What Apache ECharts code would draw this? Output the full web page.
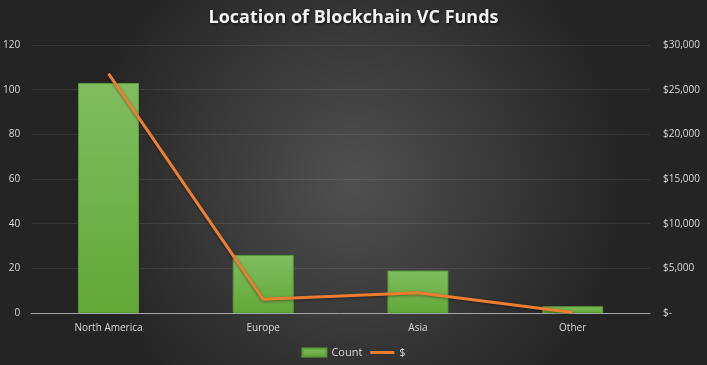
<!DOCTYPE html>
<html><head><meta charset="utf-8">
<script src="https://cdn.jsdelivr.net/npm/echarts@6/dist/echarts.min.js"></script>
<style>html,body{margin:0;padding:0;background:#333;}#c{width:707px;height:365px;}</style>
</head><body><div id="c"></div>
<script>
const categories = ['North America', 'Europe', 'Asia', 'Other'];
const countValues = [103, 26, 19, 3];
const dollarValues = [26800, 1530, 2270, 50];
const leftTicks = [0, 20, 40, 60, 80, 100, 120];
const rightTicks = ['$-', '$5,000', '$10,000', '$15,000', '$20,000', '$25,000', '$30,000'];

const chart = echarts.init(document.getElementById('c'), null, {renderer: 'canvas'});
const font = "'Open Sans', 'Noto Sans', sans-serif";
chart.setOption({
  animation: false,
  backgroundColor: {
    type: 'radial', x: 0.5, y: 0.5, r: 0.75,
    colorStops: [{offset: 0, color: '#505050'}, {offset: 1, color: '#242424'}]
  },
  title: {
    text: 'Location of Blockchain VC Funds', left: 'center', top: 4,
    textStyle: {color: '#f2f2f2', fontSize: 18, fontWeight: 'bold', fontFamily: font,
      textShadowColor: 'rgba(0,0,0,0.7)', textShadowBlur: 3, textShadowOffsetX: 1, textShadowOffsetY: 1}
  },
  legend: {
    bottom: 2, left: 'center', itemGap: 8, itemWidth: 24, itemHeight: 8,
    textStyle: {color: '#d9d9d9', fontSize: 11, fontFamily: font},
    data: [{name: 'Count', icon: 'rect'},
           {name: '$', icon: 'path://M0,2.5h24v3h-24z M0,0h0.05v0.05h-0.05z M0,8h0.05v-0.05h-0.05z',
            itemStyle: {color: '#ED7D31'}}]
  },
  grid: {left: 30, right: 57, top: 45, bottom: 52},
  xAxis: {
    type: 'category', data: categories,
    axisLine: {lineStyle: {color: '#a6a6a6', width: 1}},
    axisTick: {show: false},
    axisLabel: {color: '#d9d9d9', fontSize: 10, fontFamily: font, margin: 10}
  },
  yAxis: [{
    type: 'value', min: 0, max: 120, interval: 20,
    axisLine: {show: false}, axisTick: {show: false},
    splitLine: {lineStyle: {color: 'rgba(255,255,255,0.08)'}},
    axisLabel: {color: '#d9d9d9', fontSize: 10, fontFamily: font, margin: 11,
      formatter: v => String(v)}
  }, {
    type: 'value', min: 0, max: 30000, interval: 5000,
    axisLine: {show: false}, axisTick: {show: false}, splitLine: {show: false},
    axisLabel: {color: '#d9d9d9', fontSize: 10, fontFamily: font, margin: 13,
      formatter: v => rightTicks[Math.round(v / 5000)]}
  }],
  series: [{
    name: 'Count', type: 'bar', data: countValues, barWidth: 61,
    itemStyle: {
      color: {type: 'linear', x: 0, y: 0, x2: 0, y2: 1,
        colorStops: [{offset: 0, color: '#80bd60'}, {offset: 1, color: '#62a837'}]},
      borderColor: '#5a9a38', borderWidth: 1
    }
  }, {
    name: '$', type: 'line', yAxisIndex: 1, data: dollarValues,
    symbol: 'none', lineStyle: {color: '#ED7D31', width: 3,
      shadowColor: 'rgba(0,0,0,0.4)', shadowBlur: 3, shadowOffsetY: 1},
    itemStyle: {color: '#ED7D31'}
  }]
});
</script></body></html>
